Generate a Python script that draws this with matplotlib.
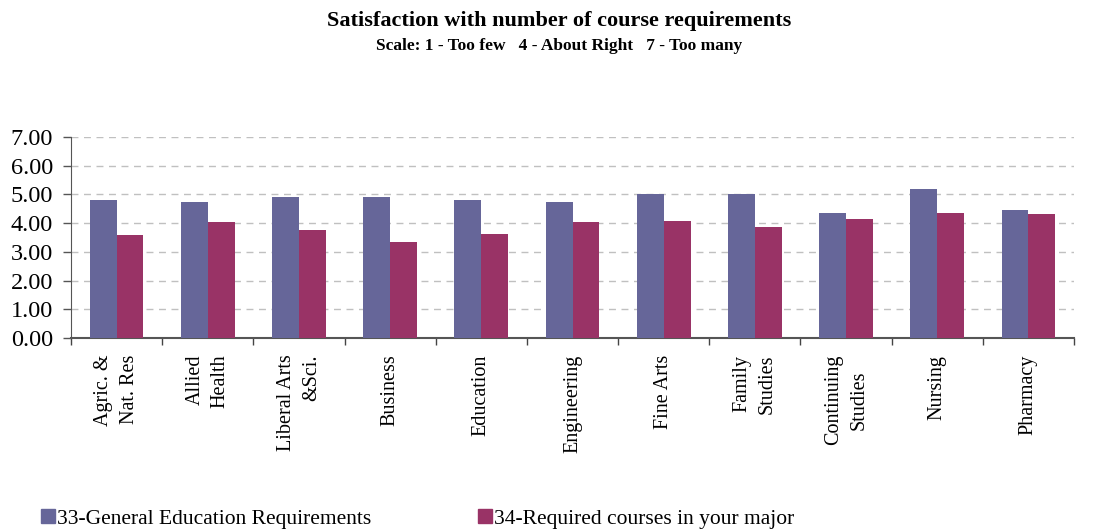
import matplotlib.pyplot as plt
import numpy as np
from matplotlib.patches import Patch

plt.rcParams['font.family'] = ['Liberation Serif', 'DejaVu Serif']

colleges = ['Agric. &\nNat. Res', 'Allied\nHealth', 'Liberal Arts\n&Sci.', 'Business',
            'Education', 'Engineering', 'Fine Arts', 'Family\nStudies',
            'Continuing\nStudies', 'Nursing', 'Pharmacy']
gen_ed = [4.81, 4.74, 4.91, 4.91, 4.81, 4.74, 5.02, 5.02, 4.35, 5.19, 4.46]
major = [3.59, 4.04, 3.76, 3.34, 3.62, 4.04, 4.07, 3.86, 4.14, 4.35, 4.32]

blue = '#666699'
wine = '#993366'

fig = plt.figure(figsize=(11.02, 5.31), dpi=100)
ax = fig.add_axes([71 / 1102, 193 / 531, 1003 / 1102, 201 / 531])

x = np.arange(len(colleges))
w = 0.295
ax.bar(x - w / 2, gen_ed, w, color=blue, zorder=3)
ax.bar(x + w / 2, major, w, color=wine, zorder=3)

ax.set_xlim(-0.5, len(colleges) - 0.5)
ax.set_ylim(0, 7)
ax.set_yticks(range(8))
ax.set_yticklabels(['%.2f' % v for v in range(8)], fontsize=17.5)
ax.tick_params(axis='y', direction='out', length=6, width=1, color='#555555', pad=7)

# boundaries get tick marks, category names sit between them
ax.set_xticks(np.arange(-0.5, len(colleges), 1.0))
ax.set_xticklabels([])
ax.tick_params(axis='x', which='major', direction='out', length=5, width=1, color='#444444')
ax.set_xticks(x, minor=True)
ax.set_xticklabels(colleges, minor=True, rotation=90, fontsize=14.5, linespacing=1.45)
ax.tick_params(axis='x', which='minor', length=0, pad=12)
for lbl, name in zip(ax.get_xticklabels(minor=True), colleges):
    lbl.set_multialignment('center' if name.startswith('Continuing') else 'right')

for v in range(1, 8):
    ax.axhline(v, color='#c0c0c0', lw=1, ls=(0, (5, 4)), zorder=1)

for side in ['top', 'right']:
    ax.spines[side].set_visible(False)
ax.spines['left'].set_color('#555555')
ax.spines['bottom'].set_color('#555555')
ax.spines['bottom'].set_linewidth(1.5)

fig.text(559 / 1102, 1 - 21 / 531, 'Satisfaction with number of course requirements',
         ha='center', va='center', fontsize=16, fontweight='bold')
fig.text(559 / 1102, 1 - 46 / 531, 'Scale: 1 - Too few   4 - About Right   7 - Too many',
         ha='center', va='center', fontsize=12.5, fontweight='bold')

# one legend per series so each entry sits at its own spot
entries = [(blue, '33-General Education Requirements', 41),
           (wine, '34-Required courses in your major', 478)]
for col, text, xpos in entries:
    fig.legend(handles=[Patch(color=col, label=text)], loc='center left',
               bbox_to_anchor=(xpos / 1102, 1 - 519 / 531), frameon=False,
               fontsize=15.5, handlelength=0.65, handleheight=0.65, handletextpad=0.1,
               borderpad=0, borderaxespad=0)

fig.savefig('out.png', dpi=100)
